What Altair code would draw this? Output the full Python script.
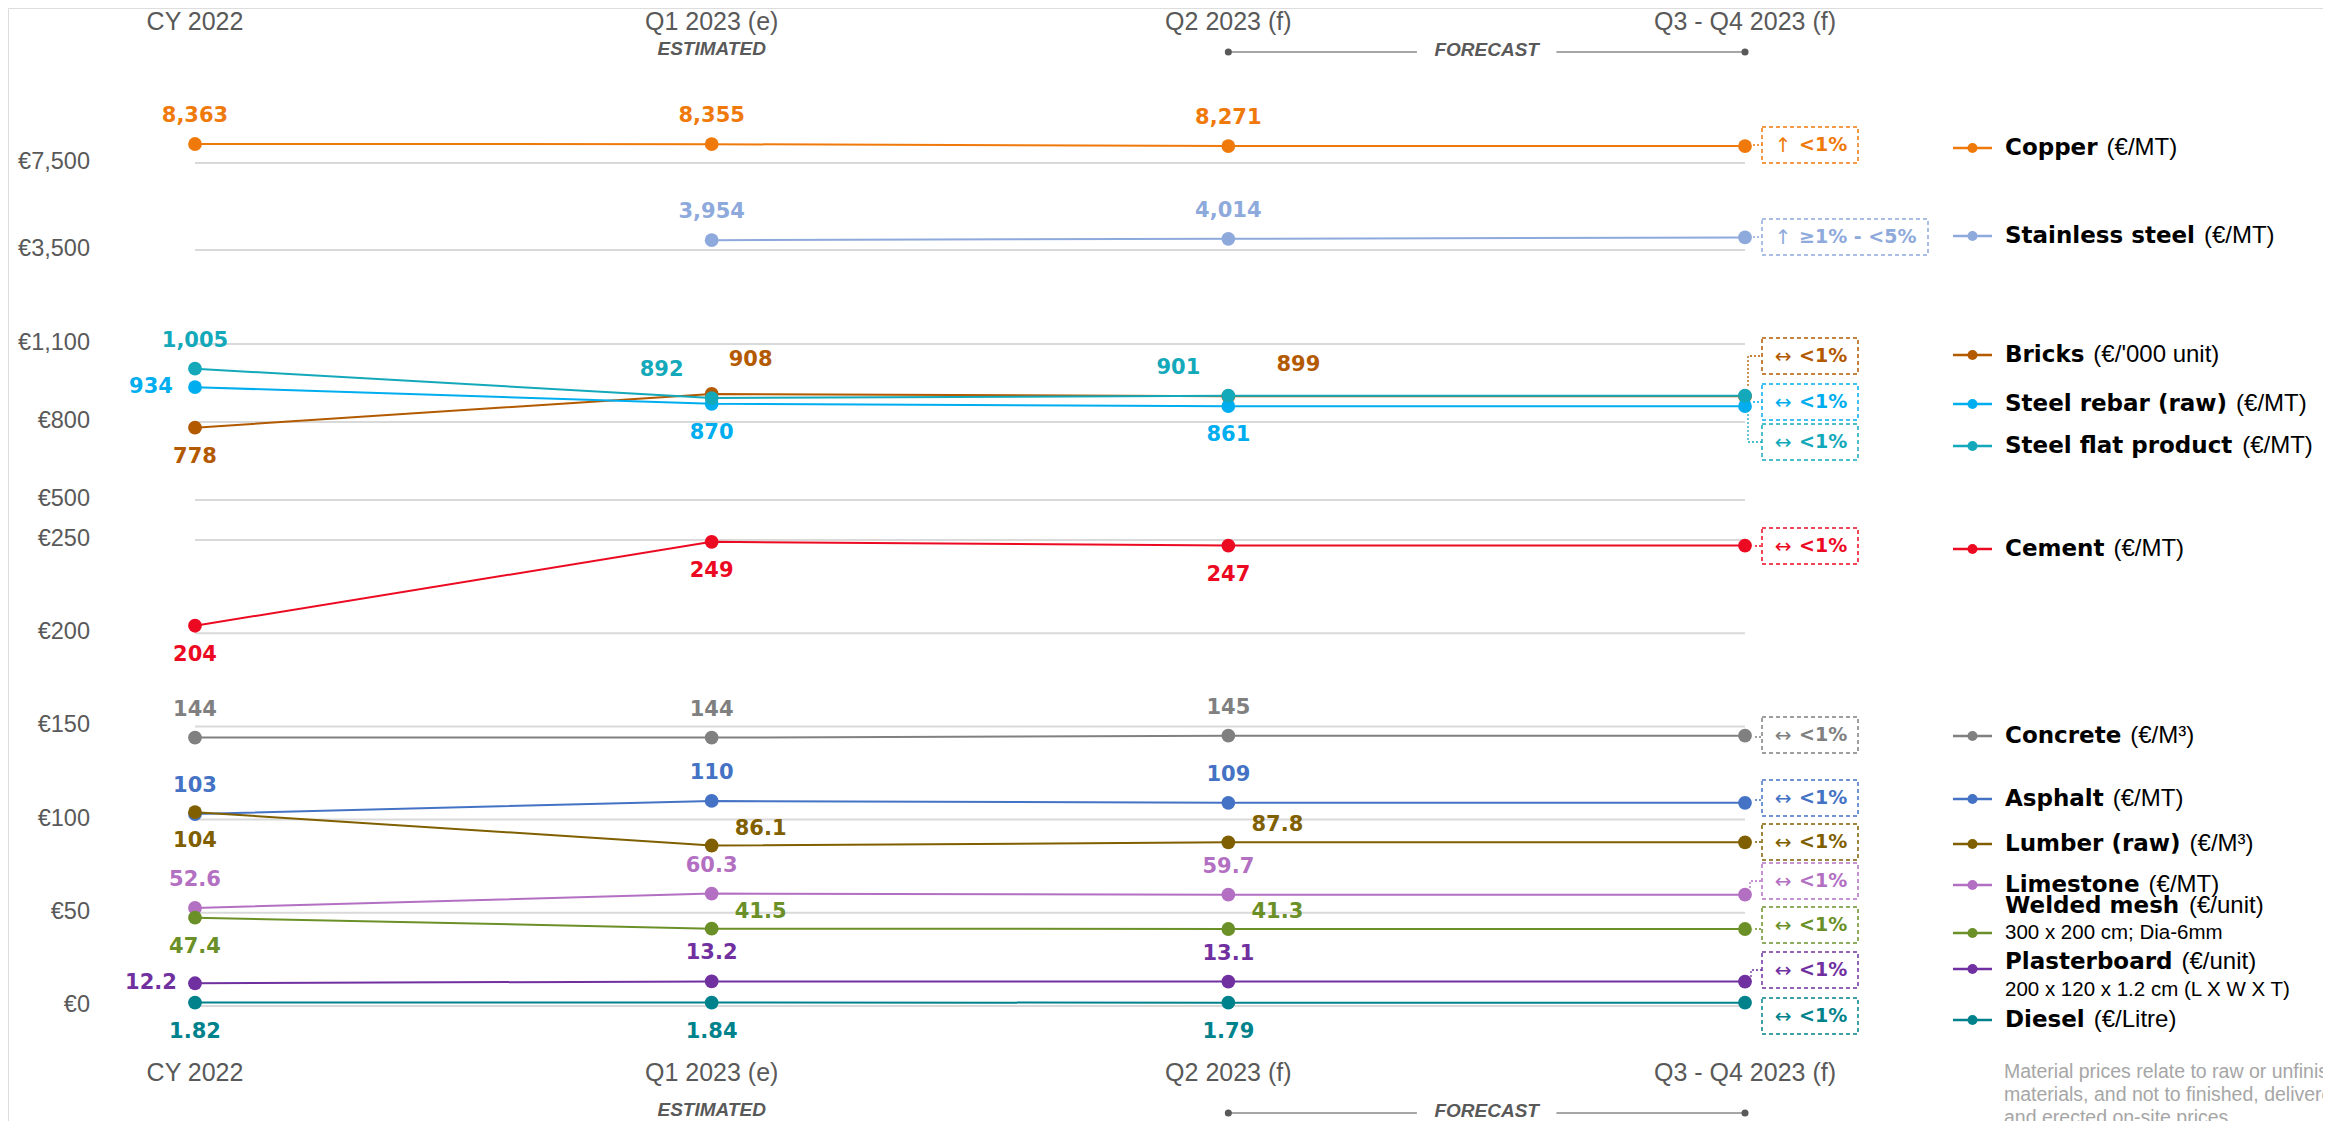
import altair as alt
import pandas as pd

# ---------------- data ----------------
periods = ["CY 2022", "Q1 2023 (e)", "Q2 2023 (f)", "Q3 - Q4 2023 (f)"]
materials = ["Copper", "Stainless steel", "Bricks", "Steel rebar (raw)", "Steel flat product",
             "Cement", "Concrete", "Asphalt", "Lumber (raw)", "Limestone", "Welded mesh",
             "Plasterboard", "Diesel"]
units = ["(€/MT)", "(€/MT)", "(€/'000 unit)", "(€/MT)", "(€/MT)", "(€/MT)", "(€/M³)",
         "(€/MT)", "(€/M³)", "(€/MT)", "(€/unit)", "(€/unit)", "(€/Litre)"]
subtitles = ["", "", "", "", "", "", "", "", "", "", "300 x 200 cm; Dia-6mm",
             "200 x 120 x 1.2 cm (L X W X T)", ""]

copper = [8363, 8355, 8271, 8271]
stainless = [None, 3954, 4014, 4080]
bricks = [778, 908, 899, 899]
rebar = [934, 870, 861, 861]
flat = [1005, 892, 901, 901]
cement = [204, 249, 247, 247]
concrete = [144, 144, 145, 145]
asphalt = [103, 110, 109, 109]
lumber = [104, 86.1, 87.8, 87.8]
limestone = [52.6, 60.3, 59.7, 59.7]
welded = [47.4, 41.5, 41.3, 41.3]
plaster = [12.2, 13.2, 13.1, 13.1]
diesel = [1.82, 1.84, 1.79, 1.79]
series_values = [copper, stainless, bricks, rebar, flat, cement, concrete, asphalt,
                 lumber, limestone, welded, plaster, diesel]

trend_arrow = ["↑", "↑", "↔", "↔", "↔", "↔", "↔", "↔", "↔", "↔", "↔", "↔", "↔"]
trend_text = ["<1%", "≥1% - <5%", "<1%", "<1%", "<1%", "<1%", "<1%", "<1%", "<1%",
              "<1%", "<1%", "<1%", "<1%"]

y_ticks = [0, 50, 100, 150, 200, 250, 500, 800, 1100, 3500, 7500]

footnote = ["Material prices relate to raw or unfinished",
            "materials, and not to finished, delivered",
            "and erected on-site prices"]

# ---------------- style / layout ----------------
colors = ["#EF7A0B", "#8EA9DB", "#B35900", "#00AEEF", "#13A9BA", "#EC0A22", "#808080",
          "#4472C4", "#7F5F00", "#B370C3", "#6B9028", "#7030A0", "#00828C"]

W, H = 2315, 1113
def P(v):  # page pixel -> plot pixel
    return v - 8

FONT = "Liberation Sans"
BOLDFONT = "DejaVu Sans"
GREY = "#595959"

x_scale = alt.Scale(domain=[0, 3], range=[P(195), P(1745)], nice=False, zero=False)
# broken (piecewise) value axis
y_scale = alt.Scale(domain=[0, 250, 500, 1100, 3500, 7500, 9000],
                    range=[P(1006), P(540), P(500), P(344), P(250), P(163), P(130)],
                    nice=False, zero=False, clamp=False)

placement = {
    "Copper": ["above", "above", "above"],
    "Stainless steel": [None, "above", "above"],
    "Bricks": ["below", "upright", "upright2"],
    "Steel rebar (raw)": ["left", "below", "below"],
    "Steel flat product": ["above", "upleft", "upleft"],
    "Cement": ["below", "below", "below"],
    "Concrete": ["above", "above", "above"],
    "Asphalt": ["above", "above", "above"],
    "Lumber (raw)": ["below", "right", "right"],
    "Limestone": ["above", "above", "above"],
    "Welded mesh": ["below", "right", "right"],
    "Plasterboard": ["left", "above", "above"],
    "Diesel": ["below", "below", "below"],
}
offsets = {"above": (0, -28), "below": (0, 29), "left": (-44, 0), "upleft": (-50, -28),
           "upright": (39, -34), "upright2": (70, -31), "right": (49, -17)}

# legend rows (page y): name line, marker, subtitle
legend_y = [148, 236, 355, 404, 446, 549, 736, 799, 844, 885, 906, 962, 1020]
legend_marker_y = [148, 236, 355, 404, 446, 549, 736, 799, 844, 885, 933, 969, 1020]
legend_sub_y = [None] * 10 + [933, 990, None]

box_y = [145, 237, 356, 402, 442, 546, 735, 798, 842, 881, 925, 970, 1016]
box_w = [96, 166] + [96] * 11
BOX_X = 1762

connectors = {
    0: [(1753, 145), (1762, 145)],
    1: [(1753, 237), (1762, 237)],
    2: [(1748, 386), (1748, 356), (1762, 356)],
    3: [(1753, 402), (1762, 402)],
    4: [(1748, 410), (1748, 442), (1762, 442)],
    5: [(1755, 546), (1762, 546)],
    6: [(1755, 737), (1762, 737)],
    7: [(1755, 800), (1762, 800)],
    8: [(1755, 842), (1762, 842)],
    9: [(1750, 888), (1750, 881), (1762, 881)],
    10: [(1755, 929), (1762, 929)],
    11: [(1751, 977), (1751, 970), (1762, 970)],
}

WB = {' ': 0.348, '(': 0.457, ')': 0.457, 'a': 0.675, 'b': 0.716, 'c': 0.593, 'd': 0.716,
      'e': 0.678, 'f': 0.435, 'h': 0.712, 'i': 0.343, 'k': 0.665, 'l': 0.343, 'm': 1.042,
      'n': 0.712, 'o': 0.687, 'p': 0.716, 'r': 0.493, 's': 0.595, 't': 0.478, 'u': 0.712,
      'w': 0.924, 'A': 0.774, 'B': 0.762, 'C': 0.734, 'D': 0.830, 'L': 0.637, 'P': 0.732,
      'S': 0.720, 'W': 1.100}
def bold_width(s, size):
    return sum(WB.get(c, 0.7) for c in s) * size

def fmt(v):
    if v >= 100:
        return f"{v:,.0f}"
    if v >= 10:
        return f"{v:.1f}"
    return f"{v:.2f}"

# ---------------- tables ----------------
rows = []
for m, vals in zip(materials, series_values):
    for i, v in enumerate(vals):
        if v is not None:
            rows.append({"material": m, "idx": i, "value": v})
df = pd.DataFrame(rows)

lab_rows = []
for m, vals in zip(materials, series_values):
    for i in range(3):
        pl = placement[m][i]
        if pl is None or vals[i] is None:
            continue
        lab_rows.append({"material": m, "idx": i, "value": vals[i], "label": fmt(vals[i]),
                         "pl": pl})
df_lab = pd.DataFrame(lab_rows)

color_scale = alt.Scale(domain=materials, range=colors)

X = alt.X("idx:Q", scale=x_scale, axis=None)
Y = alt.Y("value:Q", scale=y_scale, axis=None)

layers = []

# gridlines
df_grid = pd.DataFrame({"value": y_ticks, "x0": 0, "x1": 3,
                        "lab": ["€" + f"{v:,}" for v in y_ticks]})
layers.append(alt.Chart(df_grid).mark_rule(color="#D9D9D9", strokeWidth=2).encode(
    x=alt.X("x0:Q", scale=x_scale, axis=None), x2="x1:Q", y=Y))
# value axis labels (placed through the broken y scale)
layers.append(alt.Chart(df_grid).mark_text(
    font=FONT, fontSize=23.5, color=GREY, align="right", baseline="middle", dy=-1).encode(
    x=alt.value(P(90)), y=Y, text="lab:N"))

lines = alt.Chart(df).mark_line(strokeWidth=2).encode(
    x=X, y=Y, color=alt.Color("material:N", scale=color_scale, legend=None),
    detail="material:N")
layers.append(lines)

points = alt.Chart(df).mark_circle(size=190, opacity=1).encode(
    x=X, y=Y, color=alt.Color("material:N", scale=color_scale, legend=None))
layers.append(points)

for pl, (dx, dy) in offsets.items():
    sub = df_lab[df_lab["pl"] == pl]
    if len(sub) == 0:
        continue
    layers.append(alt.Chart(sub).mark_text(
        dx=dx, dy=dy, font=BOLDFONT, fontSize=21, fontWeight="bold", align="center",
        baseline="middle").encode(
        x=X, y=Y, text="label:N",
        color=alt.Color("material:N", scale=color_scale, legend=None)))

# period labels top & bottom
df_per = pd.DataFrame({"idx": list(range(4)), "name": periods})
for yy in (P(22), P(1073)):
    layers.append(alt.Chart(df_per).mark_text(
        font=FONT, fontSize=25, color=GREY, baseline="middle").encode(
        x=X, y=alt.value(yy), text="name:N"))

# ESTIMATED / FORECAST annotations
df_est = pd.DataFrame({"idx": [1], "t": ["ESTIMATED"]})
df_fc = pd.DataFrame({"idx": [2.5], "t": ["FORECAST"]})
df_fcl = pd.DataFrame({"a": [2, 2.635], "b": [2.365, 3]})
df_fcd = pd.DataFrame({"idx": [2, 3]})
for yy in (P(49), P(1110)):
    layers.append(alt.Chart(df_est).mark_text(
        font=FONT, fontSize=19, fontWeight="bold", fontStyle="italic", color=GREY,
        baseline="middle").encode(x=X, y=alt.value(yy), text="t:N"))
    layers.append(alt.Chart(df_fc).mark_text(
        font=FONT, fontSize=19, fontWeight="bold", fontStyle="italic", color=GREY,
        baseline="middle").encode(x=X, y=alt.value(yy + 1), text="t:N"))
    layers.append(alt.Chart(df_fcl).mark_rule(color="#A6A6A6", strokeWidth=2).encode(
        x=alt.X("a:Q", scale=x_scale, axis=None), x2="b:Q", y=alt.value(yy + 3)))
    layers.append(alt.Chart(df_fcd).mark_circle(size=50, opacity=1, color=GREY).encode(
        x=X, y=alt.value(yy + 3)))

# forecast change boxes
df_box = pd.DataFrame({
    "x0": [P(BOX_X)] * 13, "x1": [P(BOX_X + w) for w in box_w],
    "y0": [P(y - 18) for y in box_y], "y1": [P(y + 18) for y in box_y],
    "ym": [P(y) for y in box_y],
    "xa": [P(BOX_X + 21)] * 13, "xt": [P(BOX_X + 37)] * 13,
    "arrow": trend_arrow, "txt": trend_text, "col": colors})
PX = lambda f: alt.X(f, scale=None, axis=None)
PY = lambda f: alt.Y(f, scale=None, axis=None)
layers.append(alt.Chart(df_box).mark_rect(
    fill="white", fillOpacity=0, strokeWidth=1.5, strokeDash=[4, 3]).encode(
    x=PX("x0:Q"), x2="x1:Q", y=PY("y0:Q"), y2="y1:Q",
    stroke=alt.Stroke("col:N", scale=None)))
layers.append(alt.Chart(df_box).mark_text(
    font=BOLDFONT, fontSize=20, align="center", baseline="middle", dy=1).encode(
    x=PX("xa:Q"), y=PY("ym:Q"), text="arrow:N", color=alt.Color("col:N", scale=None)))
layers.append(alt.Chart(df_box).mark_text(
    font=BOLDFONT, fontSize=19, fontWeight="bold", align="left", baseline="middle").encode(
    x=PX("xt:Q"), y=PY("ym:Q"), text="txt:N", color=alt.Color("col:N", scale=None)))

# dotted connectors
con_rows = []
for k, pts in connectors.items():
    for j, (cx, cy) in enumerate(pts):
        con_rows.append({"id": k, "k": j, "cx": P(cx), "cy": P(cy), "col": colors[k]})
df_con = pd.DataFrame(con_rows)
layers.append(alt.Chart(df_con).mark_line(strokeWidth=1.3, strokeDash=[2, 2]).encode(
    x=PX("cx:Q"), y=PY("cy:Q"), detail="id:N", order="k:Q",
    color=alt.Color("col:N", scale=None)))

# legend
df_leg = pd.DataFrame({
    "name": materials, "unit": units, "col": colors,
    "ny": [P(v) for v in legend_y], "my": [P(v) for v in legend_marker_y],
    "lx0": P(1953), "lx1": P(1992), "lxc": P(1972.5), "nx": P(2005),
    "ux": [P(2005 + bold_width(m, 23) + 9) for m in materials]})
layers.append(alt.Chart(df_leg).mark_rule(strokeWidth=2.5).encode(
    x=PX("lx0:Q"), x2="lx1:Q", y=PY("my:Q"), color=alt.Color("col:N", scale=None)))
layers.append(alt.Chart(df_leg).mark_circle(size=100, opacity=1).encode(
    x=PX("lxc:Q"), y=PY("my:Q"), color=alt.Color("col:N", scale=None)))
layers.append(alt.Chart(df_leg).mark_text(
    font=BOLDFONT, fontSize=23, fontWeight="bold", align="left", baseline="middle",
    color="black").encode(x=PX("nx:Q"), y=PY("ny:Q"), text="name:N"))
layers.append(alt.Chart(df_leg).mark_text(
    font=FONT, fontSize=24, align="left", baseline="middle", color="black").encode(
    x=PX("ux:Q"), y=PY("ny:Q"), text="unit:N"))
df_sub = pd.DataFrame([{"t": s, "sy": P(legend_sub_y[i]), "sx": P(2005)}
                       for i, s in enumerate(subtitles) if s])
layers.append(alt.Chart(df_sub).mark_text(
    font=FONT, fontSize=20.5, align="left", baseline="middle", color="black").encode(
    x=PX("sx:Q"), y=PY("sy:Q"), text="t:N"))

# footnote
df_fn = pd.DataFrame({"t": footnote, "fy": [P(1072), P(1095), P(1118)], "fx": P(2004)})
layers.append(alt.Chart(df_fn).mark_text(
    font=FONT, fontSize=19.5, align="left", baseline="middle", color="#A6A6A6").encode(
    x=PX("fx:Q"), y=PY("fy:Q"), text="t:N"))

chart = alt.layer(*layers).properties(
    width=W, height=H, autosize=alt.AutoSizeParams(type="none"),
    padding={"left": 0, "top": 0, "right": 0, "bottom": 0}
).configure_view(strokeWidth=0, stroke="transparent", clip=False).configure(
    background="white")

chart.save("out.html", embed_options={"renderer": "svg", "actions": False})
